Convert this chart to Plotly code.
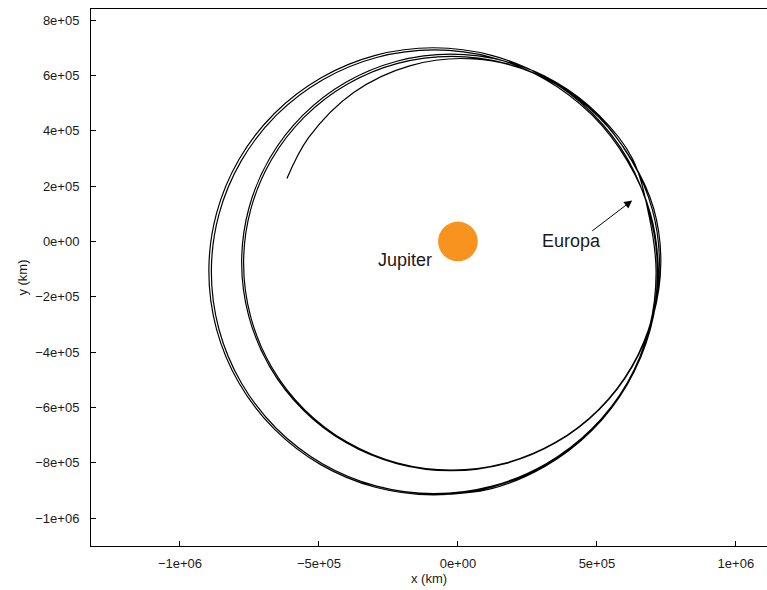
import plotly.graph_objects as go

# ---- trajectory data (thousands of km) ----
seg0_x = [-88, 117.6, 313, 480.8, 609.5, 690.4, 718, 690.4]
seg0_y = [-916, -894.4, -813.5, -684.8, -517, -321.6, -112, 97.6]

loopA_x = [611.7, 483.3, 316, 121.1, -88, -297.1, -492, -659.3, -787.7, -868.5, -896, -868.5,
           -787.7, -659.3, -492, -297.1, -88, 121.1, 316, 483.3, 611.7, 692.5, 720, 692.5]
loopA_y = [296, 463.3, 591.7, 672.5, 700, 672.5, 591.7, 463.3, 296, 101.1, -108, -317.1,
           -512, -679.3, -807.7, -888.5, -916, -888.5, -807.7, -679.3, -512, -317.1, -108, 101.1]

loopB_x = [609.5, 482.1, 316, 122.6, -85, -292.6, -486, -652.1, -779.5, -859.7, -887, -859.7,
           -779.5, -652.1, -486, -292.6, -85, 122.6, 316, 482.1, 609.5, 687.7, 713, 686.7]
loopB_y = [291, 457.1, 584.5, 664.7, 692, 664.7, 584.5, 457.1, 291, 97.6, -110, -317.6,
           -511, -677.1, -804.5, -884.7, -912, -884.7, -804.5, -677.1, -511, -317.6, -110, 97.6]

loopC_x = [627.1, 507.4, 351.5, 169.9, -25, -219.9, -401.5, -557.4, -677.1, -752.3, -778, -752.3,
           -677.1, -557.4, -401.5, -219.9, -25, 169.9, 351.5, 507.4, 627.1, 702.3, 730, 704.3]
loopC_y = [300.5, 456.4, 576.1, 651.3, 677, 651.3, 576.1, 456.4, 300.5, 118.9, -76, -270.9,
           -452.5, -608.4, -728.1, -803.3, -829, -803.3, -728.1, -608.4, -452.5, -270.9, -76, 118.9]

loopD_x = [624.8, 505.9, 351, 170.6, -23, -216.6, -397, -551.9, -670.8, -745.5, -771, -745.5,
           -670.8, -551.9, -397, -216.6, -23, 170.6, 351, 505.9, 624.8, 699.5, 725, 699.5]
loopD_y = [295, 449.9, 568.8, 643.5, 669, 643.5, 568.8, 449.9, 295, 114.6, -79, -272.6,
           -453, -607.9, -726.5, -801.5, -827, -801.5, -726.5, -607.9, -453, -272.6, -79, 114.6]

final_x = [625.3, 479.4, 282.3, 57.7, -170.3, -376.3, -536.6, -615.1]
final_y = [291.6, 479.4, 605.4, 659.5, 635.6, 537.4, 375.7, 227.6]

jupiter_x = 0
jupiter_y = 0
jupiter_radius = 71492  # km

europa_label = "Europa"
europa_label_xy = (410000, 0)
europa_arrow_tail = (478000, 34000)
europa_arrow_head = (627000, 148000)
jupiter_label = "Jupiter"
jupiter_label_xy = (-189000, -67000)

x_ticks = [-1e6, -5e5, 0, 5e5, 1e6]
x_ticktext = ["\u22121e+06", "\u22125e+05", "0e+00", "5e+05", "1e+06"]
y_ticks = [-1e6, -8e5, -6e5, -4e5, -2e5, 0, 2e5, 4e5, 6e5, 8e5]
y_ticktext = ["\u22121e+06", "\u22128e+05", "\u22126e+05", "\u22124e+05", "\u22122e+05",
              "0e+00", "2e+05", "4e+05", "6e+05", "8e+05"]

# ---- build ----
traj_x = [v * 1000 for v in seg0_x + loopA_x + loopB_x + loopC_x + loopD_x + final_x]
traj_y = [v * 1000 for v in seg0_y + loopA_y + loopB_y + loopC_y + loopD_y + final_y]

FONT = "Liberation Sans, Arial, Helvetica, sans-serif"

fig = go.Figure()
fig.add_trace(go.Scatter(x=traj_x, y=traj_y, mode="lines",
                         line=dict(color="black", width=1.2, shape="spline", smoothing=1),
                         hoverinfo="skip", showlegend=False))

fig.add_shape(type="circle", xref="x", yref="y",
              x0=jupiter_x - jupiter_radius, x1=jupiter_x + jupiter_radius,
              y0=jupiter_y - jupiter_radius, y1=jupiter_y + jupiter_radius,
              fillcolor="#F7931E", line=dict(width=0), layer="above")

fig.add_annotation(x=jupiter_label_xy[0], y=jupiter_label_xy[1], text=jupiter_label,
                   showarrow=False, font=dict(family=FONT, size=18, color="#1a1a1a"))
fig.add_annotation(x=europa_label_xy[0], y=europa_label_xy[1], text=europa_label,
                   showarrow=False, font=dict(family=FONT, size=18, color="#1a1a1a"))
fig.add_annotation(x=europa_arrow_head[0], y=europa_arrow_head[1],
                   ax=europa_arrow_tail[0], ay=europa_arrow_tail[1],
                   axref="x", ayref="y", xref="x", yref="y", text="",
                   showarrow=True, arrowhead=2, arrowsize=1.6, arrowwidth=1,
                   arrowcolor="black")

axis_common = dict(showgrid=False, zeroline=False, showline=True, linecolor="black",
                   linewidth=1, ticks="inside", ticklen=5, tickcolor="black",
                   tickfont=dict(family=FONT, size=13, color="#1a1a1a"))

fig.update_xaxes(range=[-1.320e6, 1.112e6], tickvals=x_ticks, ticktext=x_ticktext,
                 mirror=True, ticklabelstandoff=5,
                 title=dict(text="x (km)", font=dict(family=FONT, size=13, color="#1a1a1a"),
                            standoff=2),
                 **axis_common)
fig.update_yaxes(range=[-1.101e6, 8.40e5], tickvals=y_ticks, ticktext=y_ticktext,
                 ticklabelstandoff=8,
                 title=dict(text="y (km)", font=dict(family=FONT, size=13, color="#1a1a1a"),
                            standoff=4),
                 **axis_common)

fig.update_layout(width=767, height=590, margin=dict(l=91, r=0, t=9, b=44),
                  plot_bgcolor="white", paper_bgcolor="white", showlegend=False)

fig.write_html("out.html")
